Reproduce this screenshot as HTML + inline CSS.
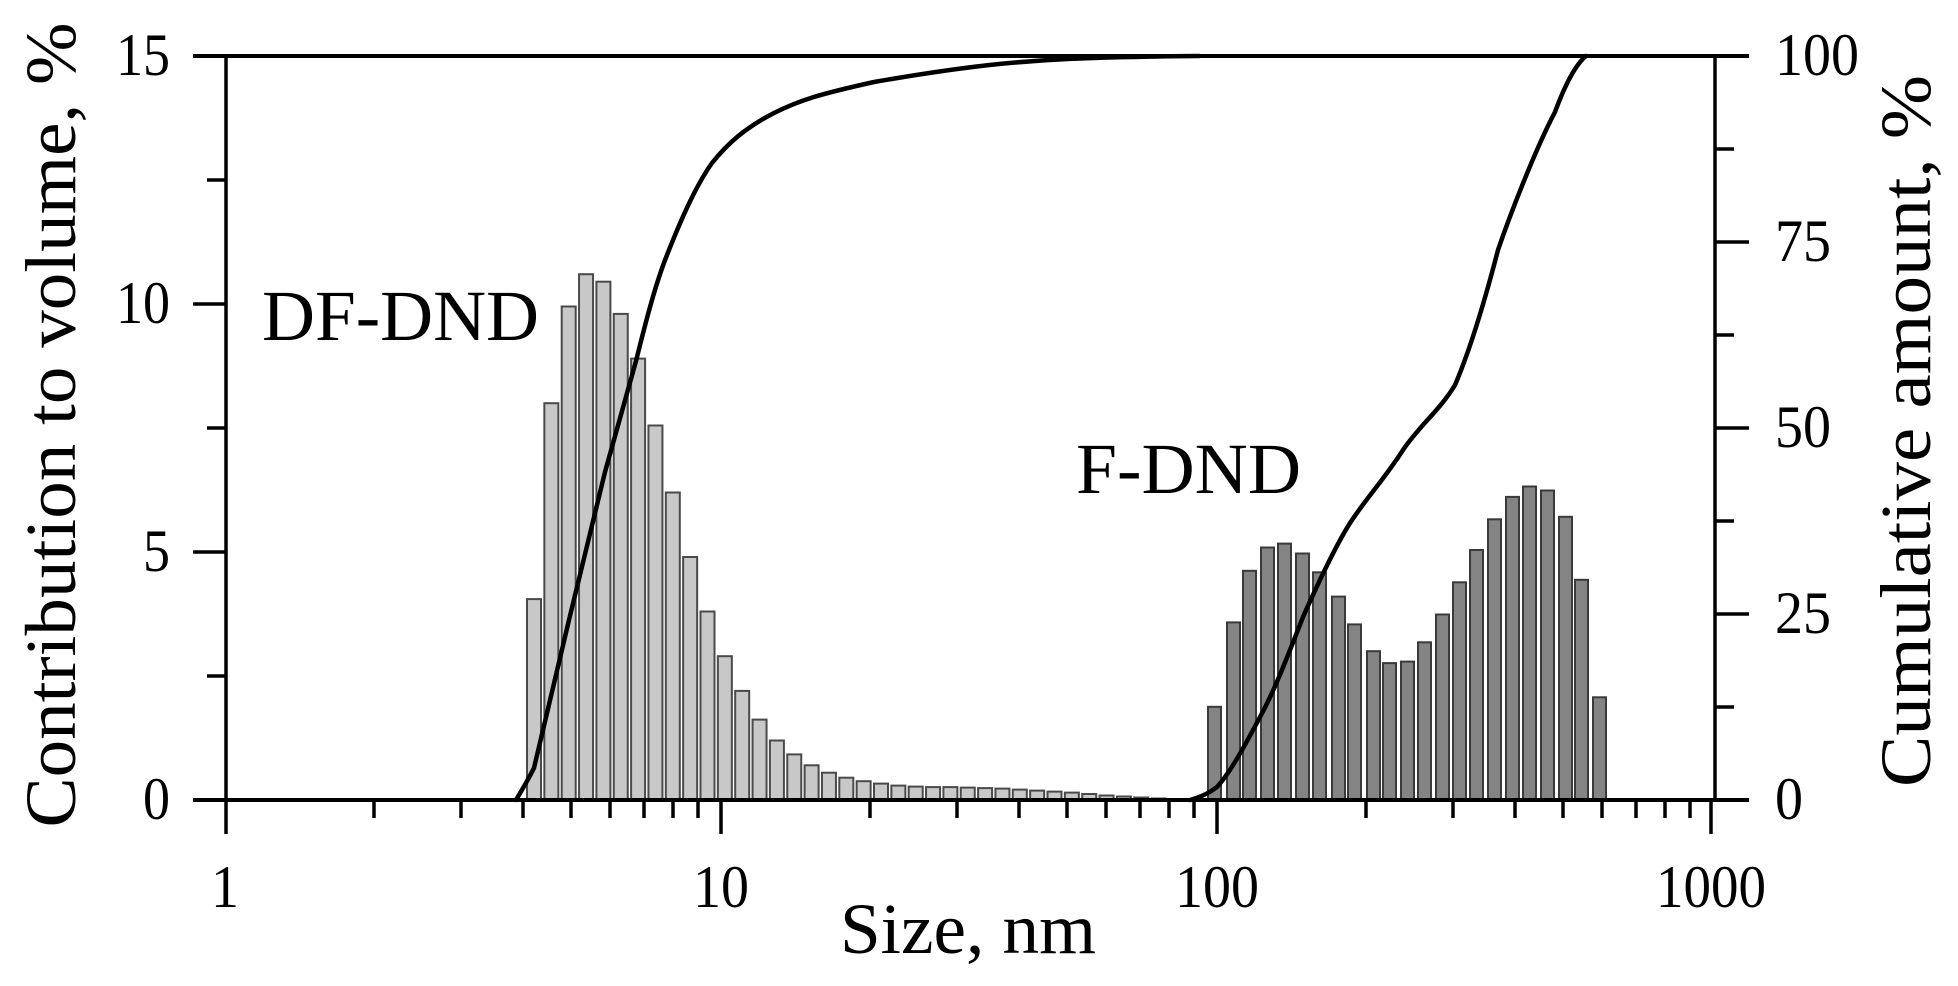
<!DOCTYPE html>
<html><head><meta charset="utf-8"><style>
html,body{margin:0;padding:0;background:#fff;}
svg{display:block;}
text{font-family:"Liberation Serif",serif;fill:#000;}
</style></head><body>
<svg width="1958" height="986" viewBox="0 0 1958 986" xmlns="http://www.w3.org/2000/svg">
<g fill="#c8c8c8" stroke="#4a4a4a" stroke-width="2">
<rect x="527" y="599.1" width="14" height="200.9"/>
<rect x="544.35" y="403.2" width="14" height="396.8"/>
<rect x="561.7" y="306.5" width="14" height="493.5"/>
<rect x="579.05" y="274.2" width="14" height="525.8"/>
<rect x="596.4" y="281.7" width="14" height="518.3"/>
<rect x="613.75" y="313.9" width="14" height="486.1"/>
<rect x="631.1" y="358.6" width="14" height="441.4"/>
<rect x="648.45" y="425.5" width="14" height="374.5"/>
<rect x="665.8" y="492.5" width="14" height="307.5"/>
<rect x="683.15" y="557" width="14" height="243"/>
<rect x="700.5" y="611.5" width="14" height="188.5"/>
<rect x="717.85" y="656.2" width="14" height="143.8"/>
<rect x="735.2" y="690.9" width="14" height="109.1"/>
<rect x="752.55" y="719.6" width="14" height="80.4"/>
<rect x="769.9" y="740.5" width="14" height="59.5"/>
<rect x="787.25" y="754.4" width="14" height="45.6"/>
<rect x="804.6" y="765.3" width="14" height="34.7"/>
<rect x="821.95" y="772.7" width="14" height="27.3"/>
<rect x="839.3" y="777.7" width="14" height="22.3"/>
<rect x="856.65" y="781.2" width="14" height="18.8"/>
<rect x="874" y="783.6" width="14" height="16.4"/>
<rect x="891.35" y="785.6" width="14" height="14.4"/>
<rect x="908.7" y="786.6" width="14" height="13.4"/>
<rect x="926.05" y="787.1" width="14" height="12.9"/>
<rect x="943.4" y="787.1" width="14" height="12.9"/>
<rect x="960.75" y="787.6" width="14" height="12.4"/>
<rect x="978.1" y="788.1" width="14" height="11.9"/>
<rect x="995.45" y="788.6" width="14" height="11.4"/>
<rect x="1012.8" y="789.6" width="14" height="10.4"/>
<rect x="1030.15" y="790.6" width="14" height="9.4"/>
<rect x="1047.5" y="791.6" width="14" height="8.4"/>
<rect x="1064.85" y="792.6" width="14" height="7.4"/>
<rect x="1082.2" y="794" width="14" height="6"/>
<rect x="1099.55" y="795.5" width="14" height="4.5"/>
<rect x="1116.9" y="796.5" width="14" height="3.5"/>
<rect x="1134.25" y="797.5" width="14" height="2.5"/>
<rect x="1151.6" y="798.5" width="14" height="1.5"/>
<rect x="1168.95" y="799" width="14" height="1"/>
<rect x="1186.3" y="799.5" width="14" height="0.5"/>
</g>
<g fill="#848484" stroke="#3a3a3a" stroke-width="2">
<rect x="1208" y="706.8" width="13" height="93.2"/>
<rect x="1227" y="622.4" width="13" height="177.6"/>
<rect x="1243" y="570.8" width="13" height="229.2"/>
<rect x="1261" y="547.5" width="13" height="252.5"/>
<rect x="1278" y="543.6" width="13" height="256.4"/>
<rect x="1296" y="553.5" width="13" height="246.5"/>
<rect x="1313" y="572.3" width="13" height="227.7"/>
<rect x="1332" y="596.6" width="13" height="203.4"/>
<rect x="1348" y="624.4" width="13" height="175.6"/>
<rect x="1367" y="651.2" width="13" height="148.8"/>
<rect x="1383" y="663.1" width="13" height="136.9"/>
<rect x="1401" y="661.6" width="13" height="138.4"/>
<rect x="1418" y="642.3" width="13" height="157.7"/>
<rect x="1436" y="614.5" width="13" height="185.5"/>
<rect x="1453" y="582.3" width="13" height="217.7"/>
<rect x="1470" y="550" width="13" height="250"/>
<rect x="1488" y="519.3" width="13" height="280.7"/>
<rect x="1506" y="496.9" width="13" height="303.1"/>
<rect x="1523" y="486.5" width="13" height="313.5"/>
<rect x="1541" y="490.5" width="13" height="309.5"/>
<rect x="1559" y="516.8" width="13" height="283.2"/>
<rect x="1575" y="579.8" width="13" height="220.2"/>
<rect x="1593" y="697.3" width="13" height="102.7"/>
</g>
<g fill="none" stroke="#000" stroke-width="4.5" stroke-linejoin="round" stroke-linecap="round">
<path d="M516,800 C522,790 528,780 534,768 L569,620 L605,472 L636,361 C645,325 655,285 667,255 C680,222 695,187 712,163 C728,143 745,128 774,113 C800,100 820,94 874,82 C920,74 960,68 999,64 C1040,60 1080,57 1199,56"/>
<path d="M1190,800 C1200,797 1208,794 1217,787 C1228,775 1240,755 1260,717 C1275,690 1290,650 1303,617 C1315,590 1335,547 1350,523 C1365,500 1385,478 1403,450 C1420,425 1440,410 1455,385 C1470,350 1485,300 1498,250 C1510,215 1535,150 1555,112 C1565,85 1575,65 1586,56"/>
</g>
<line x1="193" y1="56" x2="1749" y2="56" stroke="#000" stroke-width="4"/>
<line x1="193" y1="800" x2="1749" y2="800" stroke="#000" stroke-width="4"/>
<line x1="226" y1="54" x2="226" y2="834" stroke="#000" stroke-width="3.5"/>
<line x1="1715" y1="54" x2="1715" y2="802" stroke="#000" stroke-width="3.5"/>
<g stroke="#000" stroke-width="3.5">
<line x1="193" y1="304" x2="226" y2="304"/><line x1="193" y1="552" x2="226" y2="552"/>
<line x1="207" y1="180" x2="226" y2="180"/><line x1="207" y1="428" x2="226" y2="428"/><line x1="207" y1="676" x2="226" y2="676"/>
<line x1="1715" y1="242" x2="1749" y2="242"/><line x1="1715" y1="428" x2="1749" y2="428"/><line x1="1715" y1="614" x2="1749" y2="614"/>
<line x1="1715" y1="149" x2="1734" y2="149"/><line x1="1715" y1="335" x2="1734" y2="335"/><line x1="1715" y1="521" x2="1734" y2="521"/><line x1="1715" y1="707" x2="1734" y2="707"/>
<line x1="721" y1="800" x2="721" y2="834"/><line x1="1217" y1="800" x2="1217" y2="834"/><line x1="1711" y1="800" x2="1711" y2="834"/>
<line x1="374" y1="800" x2="374" y2="818"/><line x1="461" y1="800" x2="461" y2="818"/><line x1="523" y1="800" x2="523" y2="818"/><line x1="571" y1="800" x2="571" y2="818"/><line x1="610" y1="800" x2="610" y2="818"/><line x1="644" y1="800" x2="644" y2="818"/><line x1="673" y1="800" x2="673" y2="818"/><line x1="698" y1="800" x2="698" y2="818"/>
<line x1="870" y1="800" x2="870" y2="818"/><line x1="957" y1="800" x2="957" y2="818"/><line x1="1019" y1="800" x2="1019" y2="818"/><line x1="1067" y1="800" x2="1067" y2="818"/><line x1="1106" y1="800" x2="1106" y2="818"/><line x1="1140" y1="800" x2="1140" y2="818"/><line x1="1169" y1="800" x2="1169" y2="818"/><line x1="1194" y1="800" x2="1194" y2="818"/>
<line x1="1366" y1="800" x2="1366" y2="818"/><line x1="1453" y1="800" x2="1453" y2="818"/><line x1="1515" y1="800" x2="1515" y2="818"/><line x1="1563" y1="800" x2="1563" y2="818"/><line x1="1602" y1="800" x2="1602" y2="818"/><line x1="1636" y1="800" x2="1636" y2="818"/><line x1="1665" y1="800" x2="1665" y2="818"/><line x1="1690" y1="800" x2="1690" y2="818"/>
</g>
<g font-size="60">
<text x="170" y="75" text-anchor="end" textLength="54" lengthAdjust="spacingAndGlyphs">15</text>
<text x="170" y="323" text-anchor="end" textLength="54" lengthAdjust="spacingAndGlyphs">10</text>
<text x="170" y="571" text-anchor="end" textLength="27" lengthAdjust="spacingAndGlyphs">5</text>
<text x="170" y="819" text-anchor="end" textLength="27" lengthAdjust="spacingAndGlyphs">0</text>
<text x="1775" y="75" textLength="84" lengthAdjust="spacingAndGlyphs">100</text>
<text x="1775" y="261" textLength="56" lengthAdjust="spacingAndGlyphs">75</text>
<text x="1775" y="447" textLength="56" lengthAdjust="spacingAndGlyphs">50</text>
<text x="1775" y="633" textLength="56" lengthAdjust="spacingAndGlyphs">25</text>
<text x="1775" y="819" textLength="28" lengthAdjust="spacingAndGlyphs">0</text>
<text x="225" y="907" text-anchor="middle" textLength="28" lengthAdjust="spacingAndGlyphs">1</text>
<text x="721" y="907" text-anchor="middle" textLength="56" lengthAdjust="spacingAndGlyphs">10</text>
<text x="1217" y="907" text-anchor="middle" textLength="84" lengthAdjust="spacingAndGlyphs">100</text>
<text x="1711" y="907" text-anchor="middle" textLength="110" lengthAdjust="spacingAndGlyphs">1000</text>
</g>
<text x="968" y="953" text-anchor="middle" font-size="72" textLength="256" lengthAdjust="spacingAndGlyphs">Size, nm</text>
<text transform="translate(75,425) rotate(-90)" text-anchor="middle" font-size="72" textLength="805" lengthAdjust="spacingAndGlyphs">Contribution to volume, %</text>
<text transform="translate(1930,431) rotate(-90)" text-anchor="middle" font-size="72" textLength="712" lengthAdjust="spacingAndGlyphs">Cumulative amount, %</text>
<text x="262" y="340" font-size="72" textLength="277" lengthAdjust="spacingAndGlyphs">DF-DND</text>
<text x="1076" y="493" font-size="72" textLength="225" lengthAdjust="spacingAndGlyphs">F-DND</text>
</svg>
</body></html>
